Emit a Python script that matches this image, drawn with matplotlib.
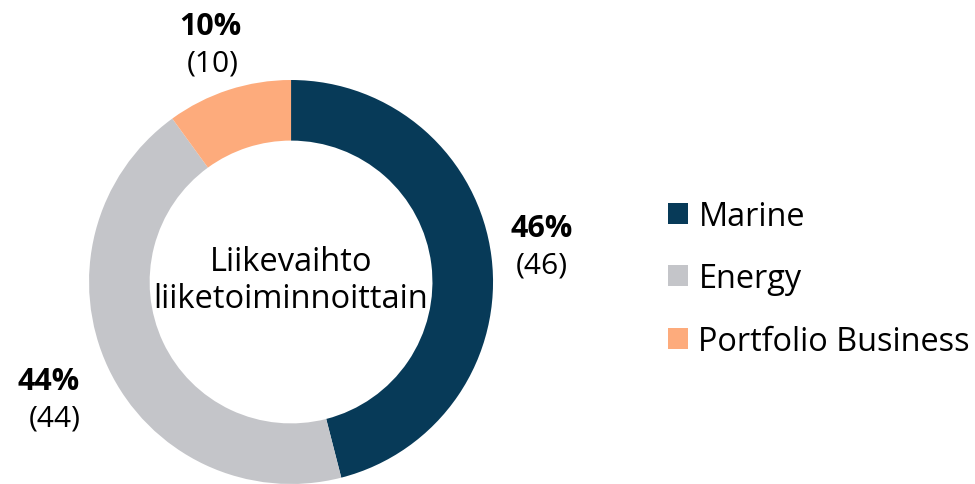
import matplotlib.pyplot as plt
from matplotlib.patches import Patch

plt.rcParams['font.family'] = ['Open Sans', 'DejaVu Sans']

# liikevaihto liiketoiminnoittain
segments = ['Marine', 'Energy', 'Portfolio Business']
values = [46, 44, 10]
colors = ['#073a58', '#c4c5c9', '#fdab7c']

fig = plt.figure(figsize=(9.75, 4.85), dpi=100)
ax = fig.add_axes([0.0913, 0.0, 0.4144, 0.833])

wedges, _ = ax.pie(values, colors=colors, startangle=90, counterclock=False,
                   radius=1.0, wedgeprops=dict(width=0.30, edgecolor='none'))
ax.set_xlim(-1, 1)
ax.set_ylim(-1, 1)
ax.set_aspect('equal')
ax.axis('off')

ax.text(0, 0.01, 'Liikevaihto\nliiketoiminnoittain', ha='center', va='center',
        fontsize=23.5, linespacing=1.15)

# prosenttiluvut renkaan ulkopuolelle
label_pos = [(1.24, 0.18), (-1.20, -0.58), (-0.40, 1.18)]
paren_dx = [0.0, 0.03, 0.01]
for v, (x, y), dx in zip(values, label_pos, paren_dx):
    ax.text(x, y + 0.088, f'{v}%', ha='center', va='center', fontsize=22,
            fontweight='bold', clip_on=False)
    ax.text(x + dx, y - 0.095, f'({v})', ha='center', va='center', fontsize=21.5,
            clip_on=False)

handles = [Patch(facecolor=c, edgecolor='none') for c in colors]
fig.legend(handles, segments, loc='center left', bbox_to_anchor=(0.685, 0.423),
           frameon=False, fontsize=23.4, handlelength=0.62, handleheight=0.62,
           handletextpad=0.32, labelspacing=0.9, borderaxespad=0, borderpad=0)

fig.savefig('out.png', dpi=100)
